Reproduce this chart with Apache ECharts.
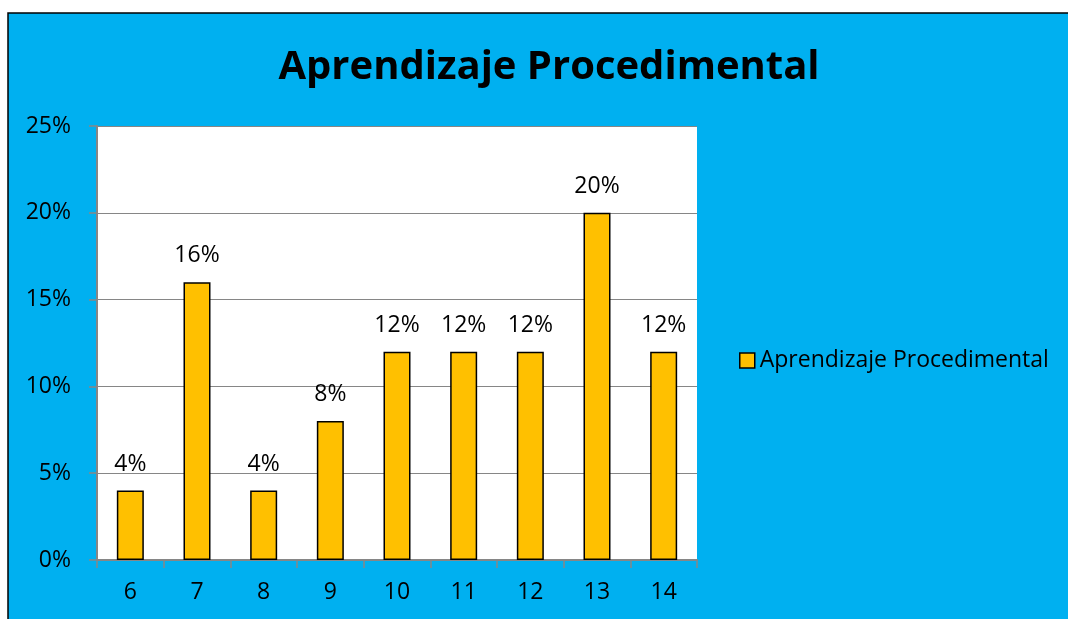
<!DOCTYPE html>
<html><head><meta charset="utf-8">
<script src="https://cdn.jsdelivr.net/npm/echarts@6/dist/echarts.min.js"></script>
<style>html,body{margin:0;padding:0;background:#fff;}#c{width:1068px;height:619px;}</style>
</head><body><div id="c"></div>
<script>
const categories = ['6','7','8','9','10','11','12','13','14'];
const values = [4, 16, 4, 8, 12, 12, 12, 20, 12];
const yTicks = [0, 5, 10, 15, 20, 25];
const seriesName = 'Aprendizaje Procedimental';
const titleText = 'Aprendizaje Procedimental';

const chart = echarts.init(document.getElementById('c'), null, {renderer:'canvas'});
const F = '"Open Sans", sans-serif';
chart.setOption({
  backgroundColor: '#ffffff',
  animation: false,
  graphic: [
    {type:'rect', shape:{x:8, y:13, width:1100, height:700}, style:{fill:'#00B0F0', stroke:'#000', lineWidth:1.5}, z:-10, silent:true}
  ],
  title: {text: titleText, left: 544, top: 43, textAlign:'center',
    textStyle:{fontFamily:F, fontSize:40, fontWeight:'bold', color:'#000'}},
  legend: {left: 739, top: 349, padding: 0, itemWidth: 15, itemHeight: 15, itemGap: 7,
    textStyle:{fontFamily:F, fontSize:23, color:'#000'},
    data:[{name: seriesName, icon:'rect', itemStyle:{color:'#FFC000', borderColor:'#000', borderWidth:1.5}}]},
  grid: {left: 97, top: 126, width: 600, height: 434, containLabel:false,
    show:true, backgroundColor:'#ffffff', borderWidth:0},
  xAxis: {type:'category', data: categories,
    axisLine:{lineStyle:{color:'#868686', width:2}},
    axisTick:{show:true, length:8, lineStyle:{color:'#868686', width:1.5}},
    axisLabel:{fontFamily:F, fontSize:23, color:'#000', margin:21}},
  yAxis: {type:'value', min: yTicks[0], max: yTicks[yTicks.length-1], interval: 5,
    axisLine:{show:true, lineStyle:{color:'#868686', width:2}},
    axisTick:{show:true, length:8, lineStyle:{color:'#868686', width:1.5}},
    splitLine:{lineStyle:{color:'#868686', width:1}},
    axisLabel:{fontFamily:F, fontSize:23, color:'#000', margin:26, formatter: v => v + '%'}},
  series: [{
    name: seriesName, type:'bar', data: values, barWidth: 27,
    itemStyle:{color:'#FFC000', borderColor:'#000', borderWidth:1.5},
    label:{show:true, position:'top', distance:15, fontFamily:F, fontSize:23, color:'#000', formatter: p => p.value + '%'}
  }]
});
</script></body></html>
